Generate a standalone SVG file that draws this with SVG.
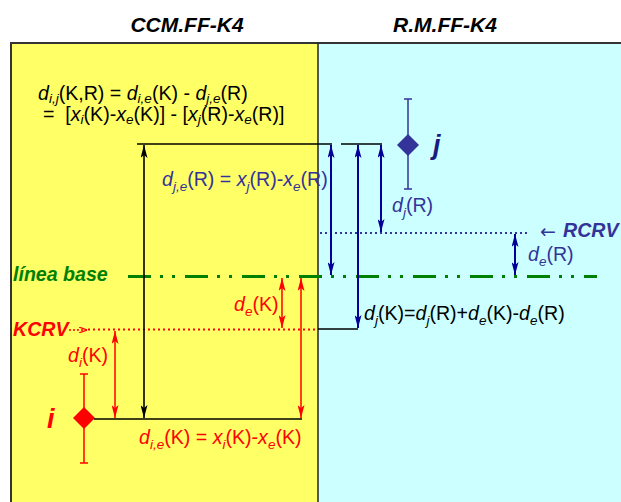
<svg xmlns="http://www.w3.org/2000/svg" width="621" height="502" viewBox="0 0 621 502">
<defs>
<style>
text{font-family:"Liberation Sans",Arial,sans-serif;font-size:19.6px}
.t{font-weight:bold;font-style:italic;font-size:21px;fill:#000;text-anchor:middle}
.bi{font-weight:bold;font-style:italic}
.it{font-style:italic}
.s{font-size:13.5px}
.big{font-size:27px}
.arr{font-family:"DejaVu Sans",sans-serif;font-size:19px}
.red{fill:#FF0000}
.blu{fill:#333399}
.blk{fill:#000}
.grn{fill:#008000}
.lk{stroke:#000;stroke-width:1.6;fill:none}
.lr{stroke:#FF0000;stroke-width:1.5;fill:none}
.lb{stroke:#000099;stroke-width:2;fill:none}
.lbt{stroke:#333399;stroke-width:1.5;fill:none}
</style>
<marker id="ak" viewBox="0 0 13 7" markerWidth="13" markerHeight="7" refX="13" refY="3.5" orient="auto-start-reverse" markerUnits="userSpaceOnUse"><path d="M0,0 L13,3.5 L0,7 L3,3.5 z" fill="#000"/></marker>
<marker id="ar" viewBox="0 0 13 7" markerWidth="13" markerHeight="7" refX="13" refY="3.5" orient="auto-start-reverse" markerUnits="userSpaceOnUse"><path d="M0,0 L13,3.5 L0,7 L3,3.5 z" fill="#FF0000"/></marker>
<marker id="ab" viewBox="0 0 13 7" markerWidth="13" markerHeight="7" refX="13" refY="3.5" orient="auto-start-reverse" markerUnits="userSpaceOnUse"><path d="M0,0 L13,3.5 L0,7 L3,3.5 z" fill="#000099"/></marker>
<marker id="ad" viewBox="0 0 8 6" markerWidth="8" markerHeight="6" refX="8" refY="3" orient="auto" markerUnits="userSpaceOnUse"><path d="M0,0 L8,3 L0,6" fill="none" stroke="#FF0000" stroke-width="1.2"/></marker>
</defs>
<rect width="621" height="502" fill="#fff"/>
<g id="panels">
<rect x="11" y="43" width="307" height="470" fill="#FFFF66"/>
<rect x="318" y="43" width="304" height="470" fill="#CCFFFF"/>
<path d="M11,512 V43 H622" fill="none" stroke="#333" stroke-width="2"/>
<line x1="318" y1="43" x2="318" y2="512" stroke="#222" stroke-width="1.5"/>
</g>
<g id="titles">
<text class="t" x="187" y="32">CCM.FF-K4</text>
<text class="t" x="445" y="32">R.M.FF-K4</text>
</g>
<g id="formula">
<text x="38" y="100" class="blk"><tspan class="it">d</tspan><tspan class="s it" dy="3">i,j</tspan><tspan dy="-3">(K,R) = </tspan><tspan class="it">d</tspan><tspan class="s it" dy="3">i,e</tspan><tspan dy="-3">(K) - </tspan><tspan class="it">d</tspan><tspan class="s it" dy="3">j,e</tspan><tspan dy="-3">(R)</tspan></text>
<text x="43" y="121" class="blk" xml:space="preserve">=  [<tspan class="it">x</tspan><tspan class="s it" dy="3">i</tspan><tspan dy="-3">(K)-</tspan><tspan class="it">x</tspan><tspan class="s it" dy="3">e</tspan><tspan dy="-3">(K)] - [</tspan><tspan class="it">x</tspan><tspan class="s it" dy="3">j</tspan><tspan dy="-3">(R)-</tspan><tspan class="it">x</tspan><tspan class="s it" dy="3">e</tspan><tspan dy="-3">(R)]</tspan></text>
</g>
<g id="reference-lines">
<line x1="128" y1="276.5" x2="597" y2="276.5" stroke="#008000" stroke-width="3" stroke-dasharray="23 9 3 9 3 10"/>
<line x1="88" y1="329.5" x2="318" y2="329.5" stroke="#FF0000" stroke-width="2" stroke-dasharray="2 3"/>
<line x1="320" y1="233" x2="530" y2="233" stroke="#333399" stroke-width="2" stroke-dasharray="2 3"/>
</g>
<g id="node-i">
<line class="lr" x1="84" y1="374" x2="84" y2="463"/>
<line class="lr" x1="80" y1="374" x2="88" y2="374"/>
<line class="lr" x1="80" y1="463" x2="88" y2="463"/>
<path d="M84,407 L95,418 L84,429 L73,418 z" fill="#FF0000"/>
<text x="47" y="428" class="bi red big">i</text>
</g>
<g id="node-j">
<line class="lbt" x1="408" y1="99" x2="408" y2="189"/>
<line class="lbt" x1="404" y1="99" x2="412" y2="99"/>
<line class="lbt" x1="404" y1="189" x2="412" y2="189"/>
<path d="M408,134 L419,145 L408,156 L397,145 z" fill="#333399"/>
<text x="433" y="154" class="bi big" style="fill:#1a1a80">j</text>
</g>
<g id="label-baseline">
<text x="13" y="281" class="bi grn">línea base</text>
</g>
<g id="label-kcrv">
<text x="13" y="336" class="bi red">KCRV</text>
<line x1="69" y1="330" x2="87" y2="330" stroke="#FF0000" stroke-width="1.5" stroke-dasharray="2 2" marker-end="url(#ad)"/>
</g>
<g id="label-rcrv">
<text x="540" y="238" class="blu arr">←</text>
<text x="563" y="237" class="bi blu">RCRV</text>
</g>
<g id="connectors">
<line class="lk" x1="137" y1="144" x2="332" y2="144"/>
<line class="lk" x1="341" y1="144" x2="382" y2="144"/>
<line class="lk" x1="94" y1="419" x2="302" y2="419"/>
<line class="lk" x1="318" y1="329" x2="358" y2="329"/>
<line class="lk" x1="144" y1="145" x2="144" y2="418" marker-start="url(#ak)" marker-end="url(#ak)"/>
<line class="lr" x1="115" y1="331" x2="115" y2="418" marker-start="url(#ar)" marker-end="url(#ar)"/>
<line class="lr" x1="282" y1="278" x2="282" y2="328" marker-start="url(#ar)" marker-end="url(#ar)"/>
<line class="lr" x1="301" y1="278" x2="301" y2="418" marker-start="url(#ar)" marker-end="url(#ar)"/>
<line class="lb" x1="331" y1="145" x2="331" y2="275" marker-start="url(#ab)" marker-end="url(#ab)"/>
<line class="lb" x1="358" y1="145" x2="358" y2="328" marker-start="url(#ab)" marker-end="url(#ab)"/>
<line class="lb" x1="381" y1="145" x2="381" y2="232" marker-start="url(#ab)" marker-end="url(#ab)"/>
<line class="lb" x1="515" y1="234" x2="515" y2="275" stroke-width="1.5" marker-start="url(#ab)" marker-end="url(#ab)"/>
</g>
<g id="labels">
<text x="162" y="186" class="blu"><tspan class="it">d</tspan><tspan class="s it" dy="5">j,e</tspan><tspan dy="-5">(R) = </tspan><tspan class="it">x</tspan><tspan class="s it" dy="5">j</tspan><tspan dy="-5">(R)-</tspan><tspan class="it">x</tspan><tspan class="s it" dy="5">e</tspan><tspan dy="-5">(R)</tspan></text>
<text x="392" y="212" class="blu"><tspan class="it">d</tspan><tspan class="s it" dy="5">j</tspan><tspan dy="-5">(R)</tspan></text>
<text x="528" y="261" class="blu"><tspan class="it">d</tspan><tspan class="s it" dy="5">e</tspan><tspan dy="-5">(R)</tspan></text>
<text x="364" y="320" class="blk"><tspan class="it">d</tspan><tspan class="s it" dy="5">j</tspan><tspan dy="-5">(K)=</tspan><tspan class="it">d</tspan><tspan class="s it" dy="5">j</tspan><tspan dy="-5">(R)+</tspan><tspan class="it">d</tspan><tspan class="s it" dy="5">e</tspan><tspan dy="-5">(K)-</tspan><tspan class="it">d</tspan><tspan class="s it" dy="5">e</tspan><tspan dy="-5">(R)</tspan></text>
<text x="234" y="311" class="red"><tspan class="it">d</tspan><tspan class="s it" dy="5">e</tspan><tspan dy="-5">(K)</tspan></text>
<text x="68" y="362" class="red"><tspan class="it">d</tspan><tspan class="s it" dy="5">i</tspan><tspan dy="-5">(K)</tspan></text>
<text x="139" y="444" class="red"><tspan class="it">d</tspan><tspan class="s it" dy="5">i,e</tspan><tspan dy="-5">(K) = </tspan><tspan class="it">x</tspan><tspan class="s it" dy="5">i</tspan><tspan dy="-5">(K)-</tspan><tspan class="it">x</tspan><tspan class="s it" dy="5">e</tspan><tspan dy="-5">(K)</tspan></text>
</g>
</svg>
